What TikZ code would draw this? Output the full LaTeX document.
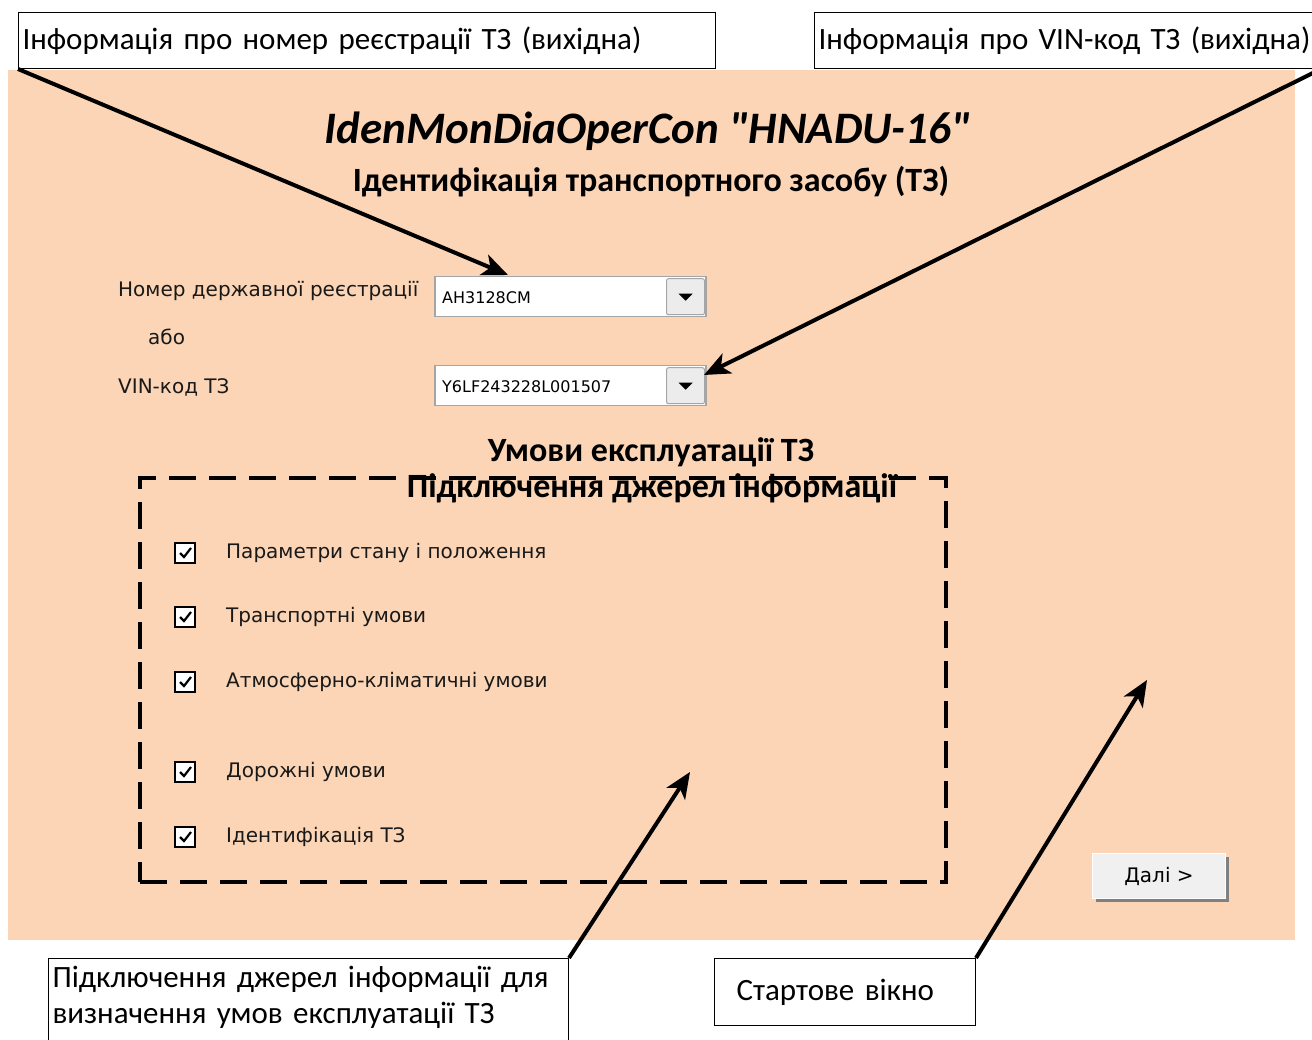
\documentclass[tikz,border=0pt]{standalone}
\usepackage{fontspec}
\setmainfont{Carlito}
\newfontfamily\plainfont{Carlito}
\newfontfamily\formfont{DejaVu Sans}
\usetikzlibrary{arrows.meta, positioning, calc, shadows}
\definecolor{peach}{RGB}{251,213,181}
\definecolor{btngray}{RGB}{240,240,240}
\definecolor{framegray}{RGB}{165,165,165}

\begin{document}
\begin{tikzpicture}[x=1pt, y=-1pt,
  callout/.style={rectangle, draw, line width=1pt, fill=white, anchor=north west, inner xsep=4pt, inner ysep=0pt, align=left, font=\fontsize{31}{36}\selectfont},
  pointer/.style={line width=4pt, -{Stealth[length=26pt, width=22pt, inset=7pt]}},
  formlabel/.style={anchor=west, inner sep=0pt, text=black!90, font=\formfont\fontsize{20}{24}\selectfont},
  heading/.style={inner sep=0pt, font=\bfseries\fontsize{34}{40}\selectfont},
  combo/.style={rectangle, draw=framegray, fill=white, line width=1.5pt, minimum width=271pt, minimum height=40pt, anchor=north west, inner sep=0pt},
  combobtn/.style={rectangle, rounded corners=2pt, draw=gray!70, fill=gray!15, line width=1pt, minimum width=38pt, minimum height=36pt, anchor=east, inner sep=0pt},
  combotext/.style={anchor=west, inner sep=0pt, font=\formfont\fontsize{16}{19}\selectfont},
  chkbox/.style={rectangle, draw, line width=1.5pt, fill=white, minimum size=20pt, inner sep=0pt},
  chklabel/.style={anchor=west, inner sep=0pt, text=black!90, font=\formfont\fontsize{20}{24}\selectfont}
]
  \useasboundingbox (0,0) rectangle (1312,1040);

  % Form background
  \node[fill=peach, minimum width=1287pt, minimum height=870pt, anchor=north west, inner sep=0pt] (form) at (8,70) {};

  % Titles
  \node[inner sep=0pt, font=\plainfont\bfseries\itshape\fontsize{45}{54}\selectfont] (title) at (648,131) {IdenMonDiaOperCon "HNADU-16"};
  \node[heading] (subtitle) at (651,182) {Ідентифікація транспортного засобу (ТЗ)};

  % Registration / VIN fields
  \node[formlabel] (reglabel) at (118,291) {Номер державної реєстрації};
  \node[formlabel] (orlabel) at (148,337) {або};
  \node[formlabel] (vinlabel) at (118,387) {VIN-код ТЗ};

  \node[combo] (regcombo) at (434,276) {};
  \node[combotext] (regtext) at ($(regcombo.west)+(8,1)$) {AH3128CM};
  \node[combobtn] (regbtn) at ($(regcombo.east)+(-1.5,0)$) {};
  \fill ($(regbtn.center)+(-7,-3)$) -- ($(regbtn.center)+(7,-3)$) -- ($(regbtn.center)+(0,4)$) -- cycle;

  \node[combo] (vincombo) at (434,365) {};
  \node[combotext] (vintext) at ($(vincombo.west)+(8,1)$) {Y6LF243228L001507};
  \node[combobtn] (vinbtn) at ($(vincombo.east)+(-1.5,0)$) {};
  \fill ($(vinbtn.center)+(-7,-3)$) -- ($(vinbtn.center)+(7,-3)$) -- ($(vinbtn.center)+(0,4)$) -- cycle;

  % Operating conditions group
  \node[heading] (condhead) at (651,452) {Умови експлуатації ТЗ};
  \node[draw, line width=3.5pt, dash pattern=on 27pt off 13pt, minimum width=806pt, minimum height=404pt, anchor=north west, inner sep=0pt] (srcframe) at (138,476) {};
  \node[heading] (srchead) at (652,488) {Підключення джерел інформації};

  \foreach \y/\t [count=\i] in {553/Параметри стану і положення, 617/Транспортні умови, 682/Атмосферно-кліматичні умови, 772/Дорожні умови, 837/Ідентифікація ТЗ} {
    \node[chkbox] (chk\i) at (185,\y) {};
    \draw[line width=2.2pt] ($(chk\i.center)+(-5,0)$) -- ($(chk\i.center)+(-1,4)$) -- ($(chk\i.center)+(6,-5)$);
    \node[chklabel] (chklabel\i) at (226,\y) {\t};
  }

  % Next button
  \node[rectangle, fill=btngray, draw=white, line width=1pt, minimum width=133pt, minimum height=45pt, anchor=north west, inner sep=0pt, drop shadow={shadow xshift=3pt, shadow yshift=-3pt, fill=black!50, opacity=1}, font=\formfont\fontsize{20}{24}\selectfont] (nextbtn) at (1092,853) {Далі >};

  % Callouts
  \node[callout, text width=689pt, minimum height=56pt] (regnote) at (18,12) {Інформація про номер реєстрації ТЗ (вихідна)};
  \node[callout, text width=498pt, minimum height=56pt] (vinnote) at (814,12) {Інформація про VIN-код ТЗ (вихідна)};
  \node[callout, text width=512pt, inner ysep=8pt] (srcnote) at (48,958) {Підключення джерел інформації для\\визначення умов експлуатації ТЗ\\ \strut};
  \node[callout, text width=217pt, inner xsep=22pt, minimum height=67pt] (startnote) at (714,958) {Стартове вікно};

  % Arrow tips
  \coordinate (regtip) at (508,275);
  \coordinate (vintip) at (704,375);
  \coordinate (srctip) at (690,772);
  \coordinate (starttip) at (1147,680);

  \draw[pointer] (regnote.south west) -- (regtip);
  \draw[pointer] (vinnote.south east) -- (vintip);
  \draw[pointer] (srcnote.north east) -- (srctip);
  \draw[pointer] (startnote.north east) -- (starttip);
\end{tikzpicture}
\end{document}
